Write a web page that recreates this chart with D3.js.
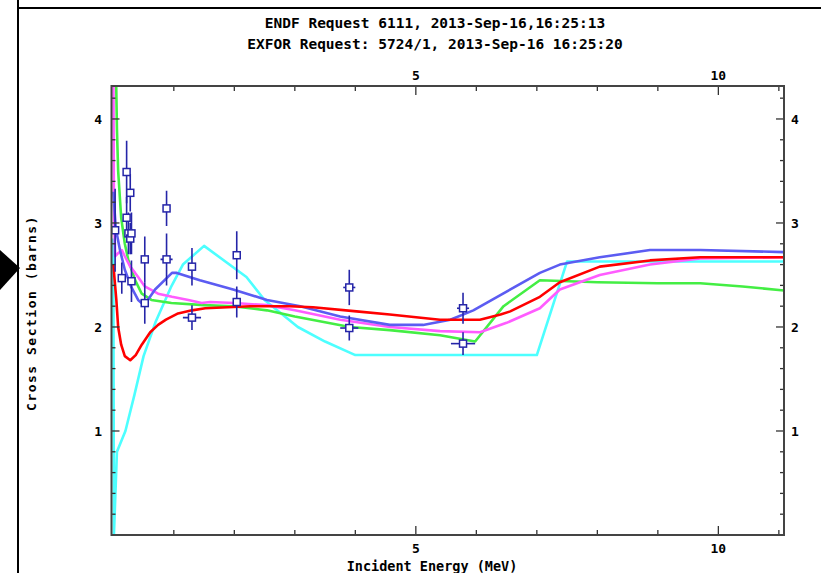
<!DOCTYPE html>
<html>
<head>
<meta charset="utf-8">
<script src="https://cdn.jsdelivr.net/npm/d3@7"></script>
<style>
  html, body { margin: 0; padding: 0; background: #fff; }
  svg { display: block; }
  text { font-family: "DejaVu Sans Mono", "Liberation Mono", monospace; font-weight: bold; fill: #000; }
</style>
</head>
<body>
<svg id="chart" width="821" height="573"></svg>
<script>
// Titles and axis text
const titleLines = ["ENDF Request 6111, 2013-Sep-16,16:25:13", "EXFOR Request: 5724/1, 2013-Sep-16 16:25:20"];
const xTitle = "Incident Energy (MeV)";
const yTitle = "Cross Section (barns)";
const xLabelTicks = [5, 10];
const yLabelTicks = [1, 2, 3, 4];

// Evaluated cross sections: [energy MeV, sigma barns]
const curveCyan = [[0.0, 2.85], [0.01, 0.0], [0.06, 0.8], [0.2, 1.0], [0.35, 1.35], [0.5, 1.72], [0.7, 2.05],
  [0.95, 2.38], [1.15, 2.6], [1.5, 2.78], [2.2, 2.48], [2.5, 2.26], [3.05, 2.0], [3.5, 1.86], [4.0, 1.73],
  [7.0, 1.73], [7.5, 2.63], [11.1, 2.63]];
const curveGreen = [[0.04, 4.6], [0.06, 3.9], [0.08, 3.5], [0.13, 3.05], [0.19, 2.8], [0.25, 2.64], [0.36, 2.45],
  [0.47, 2.32], [0.63, 2.26], [0.96, 2.23], [1.5, 2.21], [1.98, 2.2], [2.54, 2.16], [3.0, 2.1], [3.91, 2.0],
  [4.57, 1.97], [5.4, 1.92], [5.98, 1.86], [6.45, 2.2], [7.05, 2.45], [8.0, 2.43], [9.0, 2.42], [9.7, 2.42],
  [10.4, 2.39], [11.1, 2.35]];
const curveMagenta = [[0.0, 4.6], [0.01, 3.2], [0.03, 2.68], [0.08, 2.71], [0.14, 2.74], [0.19, 2.68], [0.28, 2.58],
  [0.36, 2.52], [0.41, 2.48], [0.52, 2.39], [0.74, 2.32], [0.97, 2.29], [1.24, 2.26], [1.46, 2.23], [1.6, 2.24],
  [2.0, 2.23], [2.54, 2.21], [3.0, 2.16], [3.75, 2.07], [4.57, 2.0], [5.4, 1.96], [6.06, 1.95], [6.5, 2.04],
  [7.05, 2.18], [7.38, 2.36], [8.04, 2.5], [8.87, 2.6], [9.7, 2.66], [11.1, 2.67]];
const curveBlue = [[0.0, 3.3], [0.04, 2.95], [0.11, 2.74], [0.19, 2.55], [0.30, 2.38], [0.41, 2.26], [0.51, 2.21],
  [0.69, 2.36], [0.97, 2.52], [1.05, 2.52], [1.43, 2.45], [1.98, 2.36], [2.54, 2.26], [3.09, 2.2], [3.75, 2.1],
  [4.57, 2.02], [5.12, 2.02], [5.57, 2.07], [5.95, 2.16], [6.5, 2.34], [7.05, 2.52], [7.38, 2.6], [8.04, 2.67],
  [8.87, 2.74], [9.7, 2.74], [11.1, 2.72]];
const curveRed = [[0.0, 2.6], [0.05, 2.26], [0.08, 2.0], [0.13, 1.83], [0.19, 1.72], [0.28, 1.68], [0.37, 1.73],
  [0.47, 1.83], [0.61, 1.95], [0.74, 2.02], [0.87, 2.07], [1.07, 2.13], [1.3, 2.16], [1.52, 2.18], [2.26, 2.2],
  [2.92, 2.2], [3.3, 2.19], [4.02, 2.15], [4.57, 2.12], [5.4, 2.07], [6.06, 2.07], [6.4, 2.12], [6.56, 2.15],
  [7.05, 2.29], [7.38, 2.43], [8.04, 2.58], [8.87, 2.64], [9.7, 2.67], [11.1, 2.67]];

// Measured points (EXFOR)
const expEnergy = [0.03, 0.14, 0.22, 0.22, 0.25, 0.28, 0.28, 0.30, 0.30, 0.52, 0.52, 0.88, 0.88, 1.30, 1.30, 2.04, 2.04, 3.90, 3.90, 5.78, 5.78];
const expSigma  = [2.93, 2.47, 3.49, 3.05, 2.90, 3.29, 2.85, 2.90, 2.44, 2.65, 2.23, 3.14, 2.65, 2.58, 2.09, 2.69, 2.24, 2.38, 1.99, 2.18, 1.84];
const expDSigma = [0.40, 0.15, 0.30, 0.20, 0.20, 0.18, 0.15, 0.20, 0.20, 0.22, 0.20, 0.17, 0.25, 0.18, 0.12, 0.23, 0.15, 0.17, 0.12, 0.15, 0.11];
const expDEnergy = [0, 0, 0, 0, 0, 0, 0, 0, 0, 0, 0, 0, 0.1, 0.05, 0.15, 0, 0, 0.1, 0.15, 0.1, 0.2];

const svg = d3.select("#chart");
const box = { left: 111.5, right: 784, top: 86, bottom: 535 };

const x = d3.scaleLinear().domain([-0.03, 11.085]).range([box.left, box.right]);
const y = d3.scaleLinear().domain([0, 4.317]).range([box.bottom, box.top]);

// Page decorations at the left and top edges
svg.append("line").attr("x1", 18).attr("x2", 18).attr("y1", 0).attr("y2", 573)
  .attr("stroke", "#000").attr("stroke-width", 2);
svg.append("line").attr("x1", 18).attr("x2", 821).attr("y1", 8).attr("y2", 8)
  .attr("stroke", "#000").attr("stroke-width", 2);
svg.append("polygon").attr("points", "0,250 20,268 0,290").attr("fill", "#000");

// Titles
svg.selectAll("text.title").data(titleLines).join("text")
  .attr("class", "title")
  .attr("x", 435).attr("y", (d, i) => 28 + i * 21)
  .attr("text-anchor", "middle")
  .attr("font-size", 14.5)
  .text(d => d);

// Clip region for curves
svg.append("clipPath").attr("id", "plotClip").append("rect")
  .attr("x", box.left).attr("y", box.top)
  .attr("width", box.right - box.left).attr("height", box.bottom - box.top);

const plot = svg.append("g").attr("clip-path", "url(#plotClip)");
const line = d3.line().x(d => x(d[0])).y(d => y(d[1]));

const curves = [
  { data: curveCyan, color: "#4dffff" },
  { data: curveGreen, color: "#44ee44" },
  { data: curveMagenta, color: "#ff5cff" },
  { data: curveBlue, color: "#5c5cf2" },
  { data: curveRed, color: "#ff0000" }
];
plot.selectAll("path.curve").data(curves).join("path")
  .attr("class", "curve")
  .attr("d", d => line(d.data))
  .attr("fill", "none")
  .attr("stroke", d => d.color)
  .attr("stroke-width", 2.6)
  .attr("stroke-linejoin", "round");

// Experimental points with error bars
const pts = expEnergy.map((e, i) => ({ e, s: expSigma[i], ds: expDSigma[i], de: expDEnergy[i] }));
const ptColor = "#2525a8";
const pg = plot.append("g");
pg.selectAll("line.vbar").data(pts).join("line")
  .attr("x1", d => x(d.e)).attr("x2", d => x(d.e))
  .attr("y1", d => y(d.s - d.ds)).attr("y2", d => y(d.s + d.ds))
  .attr("stroke", ptColor).attr("stroke-width", 1.6);
pg.selectAll("line.hbar").data(pts.filter(d => d.de > 0)).join("line")
  .attr("x1", d => x(d.e - d.de)).attr("x2", d => x(d.e + d.de))
  .attr("y1", d => y(d.s)).attr("y2", d => y(d.s))
  .attr("stroke", ptColor).attr("stroke-width", 1.6);
pg.selectAll("rect.pt").data(pts).join("rect")
  .attr("x", d => x(d.e) - 3.5).attr("y", d => y(d.s) - 3.5)
  .attr("width", 7).attr("height", 7)
  .attr("fill", "#fff").attr("stroke", ptColor).attr("stroke-width", 1.5);

// Ticks on all four sides, pointing inward
const tickColor = "#333";
const xMinor = d3.range(1, 12);
const yMinor = d3.range(1, 22).map(i => +(i * 0.2).toFixed(1));
const isMajorX = v => v % 5 === 0;
const isMajorY = v => Math.abs(v - Math.round(v)) < 1e-6;
const tg = svg.append("g").attr("stroke", tickColor).attr("stroke-width", 1.3);
xMinor.forEach(v => {
  const len = isMajorX(v) ? 9 : 5;
  tg.append("line").attr("x1", x(v)).attr("x2", x(v)).attr("y1", box.bottom).attr("y2", box.bottom - len);
  tg.append("line").attr("x1", x(v)).attr("x2", x(v)).attr("y1", box.top).attr("y2", box.top + len);
});
yMinor.forEach(v => {
  const len = isMajorY(v) ? 8 : 4;
  tg.append("line").attr("x1", box.left).attr("x2", box.left + len).attr("y1", y(v)).attr("y2", y(v));
  tg.append("line").attr("x1", box.right).attr("x2", box.right - len).attr("y1", y(v)).attr("y2", y(v));
});

// Frame
svg.append("rect")
  .attr("x", box.left).attr("y", box.top)
  .attr("width", box.right - box.left).attr("height", box.bottom - box.top)
  .attr("fill", "none").attr("stroke", "#444").attr("stroke-width", 2);

// Tick labels
svg.selectAll("text.xb").data(xLabelTicks).join("text")
  .attr("x", d => x(d)).attr("y", 553).attr("text-anchor", "middle").attr("font-size", 13).text(d => d);
svg.selectAll("text.xt").data(xLabelTicks).join("text")
  .attr("x", d => x(d)).attr("y", 80).attr("text-anchor", "middle").attr("font-size", 13).text(d => d);
svg.selectAll("text.yl").data(yLabelTicks).join("text")
  .attr("x", 102).attr("y", d => y(d) + 5).attr("text-anchor", "end").attr("font-size", 13).text(d => d);
svg.selectAll("text.yr").data(yLabelTicks).join("text")
  .attr("x", 791).attr("y", d => y(d) + 5).attr("text-anchor", "start").attr("font-size", 13).text(d => d);

// Axis titles
svg.append("text").attr("x", 432).attr("y", 571).attr("text-anchor", "middle")
  .attr("font-size", 13.5).text(xTitle);
svg.append("text").attr("transform", "translate(36,313) rotate(-90)")
  .attr("text-anchor", "middle").attr("font-size", 13).attr("letter-spacing", 1.5).text(yTitle);
</script>
</body>
</html>
